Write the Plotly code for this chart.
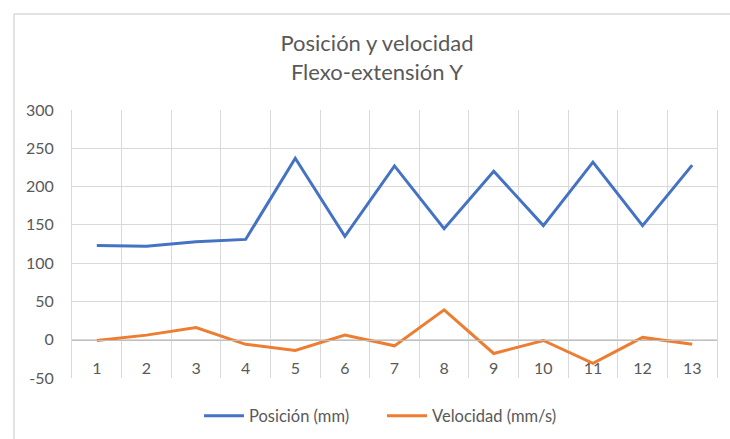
import plotly.graph_objects as go

# Sample index along the movement
muestras = list(range(1, 14))
etiquetas = [str(m) for m in muestras]

# Position (mm) and velocity (mm/s) per sample
posicion = [123, 122, 128, 131, 237, 135, 227, 145, 220, 149, 232, 149, 228]
velocidad = [-1, 6, 16, -6, -14, 6, -8, 39, -18, -1, -31, 3, -6]

y_ticks = [-50, 0, 50, 100, 150, 200, 250, 300]
y_etiquetas = [str(v) for v in y_ticks]

AZUL = "#4472C4"
NARANJA = "#ED7D31"
GRIS_TEXTO = "#595959"
GRIS_REJILLA = "#D9D9D9"
FUENTE = "Lato, 'Open Sans', sans-serif"

fig = go.Figure()
fig.add_trace(go.Scatter(x=muestras, y=posicion, mode="lines", name="Posición (mm)",
                         line=dict(color=AZUL, width=3)))
fig.add_trace(go.Scatter(x=muestras, y=velocidad, mode="lines", name="Velocidad (mm/s)",
                         line=dict(color=NARANJA, width=3)))

y_min, y_max = -50, 300
zero_frac = (0 - y_min) / (y_max - y_min)

W, H = 730, 439
ML, MR, MT, MB = 72, 13, 110, 61
pw, ph = W - ML - MR, H - MT - MB

fig.update_layout(
    width=W, height=H,
    margin=dict(l=ML, r=MR, t=MT, b=MB, autoexpand=False),
    paper_bgcolor="white", plot_bgcolor="white",
    font=dict(family=FUENTE, color=GRIS_TEXTO, size=15),
    title=dict(text="Posición y velocidad<br>Flexo-extensión Y",
               xref="container", x=377 / W, xanchor="center",
               yref="container", y=1 - 51 / H, yanchor="top",
               font=dict(size=22, color=GRIS_TEXTO, family=FUENTE)),
    showlegend=True,
    legend=dict(orientation="h", xref="container", x=382 / W, xanchor="center",
                yref="container", y=1 - 416 / H, yanchor="middle",
                font=dict(size=16.5, color=GRIS_TEXTO), itemwidth=40,
                entrywidth=128, entrywidthmode="pixels",
                bgcolor="rgba(0,0,0,0)"),
    xaxis=dict(
        range=[0.5, 13.5], tickmode="array", tickvals=muestras, ticktext=etiquetas,
        showgrid=False, zeroline=False,
        anchor="free", position=zero_frac,
        showline=True, linecolor="#BFBFBF", linewidth=1,
        ticks="", ticklabelstandoff=14,
        tickfont=dict(size=16, color=GRIS_TEXTO),
        minor=dict(tickmode="array", tickvals=[m + 0.5 for m in [0] + muestras],
                   showgrid=True, gridcolor=GRIS_REJILLA, gridwidth=1, ticks=""),
        fixedrange=True,
    ),
    yaxis=dict(
        range=[y_min, y_max], tickmode="array", tickvals=y_ticks, ticktext=y_etiquetas,
        showgrid=True, gridcolor=GRIS_REJILLA, gridwidth=1, zeroline=False,
        showline=True, mirror=True, linecolor=GRIS_REJILLA, linewidth=1,
        ticks="", ticklabelstandoff=14,
        tickfont=dict(size=16, color=GRIS_TEXTO),
        fixedrange=True,
    ),
)

# Chart-area frame: top and left edges (the rest runs past the page)
fx0 = (14 - ML) / pw
fx1 = (W - ML) / pw
fy_top = (H - MB - 14) / ph
fy_bot = (H - MB - H) / ph
frame = dict(color=GRIS_REJILLA, width=1.5)
fig.add_shape(type="line", xref="paper", yref="paper",
              x0=fx0, x1=fx1, y0=fy_top, y1=fy_top, line=frame, layer="below")
fig.add_shape(type="line", xref="paper", yref="paper",
              x0=fx0, x1=fx0, y0=fy_bot, y1=fy_top, line=frame, layer="below")

fig.write_html("out.html", config={"displayModeBar": False})
